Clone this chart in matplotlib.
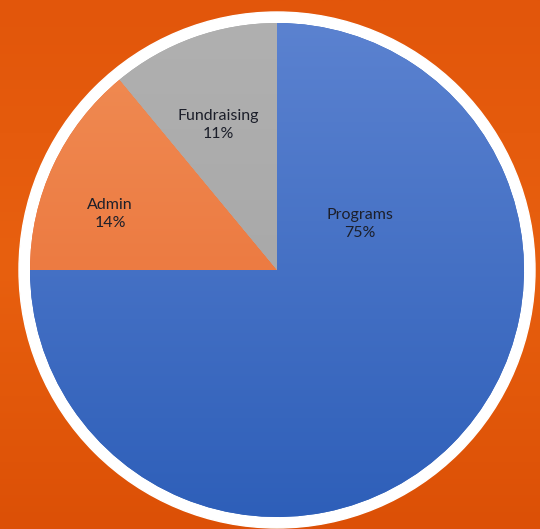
import numpy as np
from matplotlib import pyplot as plt
from matplotlib.colors import LinearSegmentedColormap

# chart data
categories = ['Programs', 'Admin', 'Fundraising']
shares = [75, 14, 11]

# top / bottom shades of each slice (slices look lit from the top)
tops = ['#5b82d0', '#f08d55', '#b0b0b0']
bottoms = ['#2e5fb9', '#e9692f', '#a2a2a2']

W, H = 540, 529
cx, cy, r = 277, H - 270, 247

fig = plt.figure(figsize=(W / 100, H / 100), dpi=100)
ax = fig.add_axes([0, 0, 1, 1])
ax.set_xlim(0, W)
ax.set_ylim(0, H)
ax.set_aspect('equal')
ax.axis('off')

# orange backdrop, a bit darker at the bottom
bg = LinearSegmentedColormap.from_list('bg', ['#e2560b', '#e8600f', '#dc5006'])
ax.imshow(np.linspace(0, 1, 256).reshape(-1, 1), cmap=bg, aspect='auto',
          extent=(0, W, 0, H), origin='upper', zorder=0)

# white ring behind the pie
ax.add_patch(plt.Circle((cx, cy), r + 11, color='white', zorder=1))

wedges, _ = ax.pie(shares, startangle=90, counterclock=False, center=(cx, cy),
                   radius=r, colors=bottoms, frame=True,
                   wedgeprops=dict(linewidth=0, zorder=2))
ax.set_xlim(0, W)
ax.set_ylim(0, H)
ax.axis('off')

for w, top, bot in zip(wedges, tops, bottoms):
    cm = LinearSegmentedColormap.from_list('g', [top, bot])
    im = ax.imshow(np.linspace(0, 1, 256).reshape(-1, 1), cmap=cm, aspect='auto',
                   extent=(cx - r, cx + r, cy - r, cy + r), origin='upper', zorder=3)
    im.set_clip_path(w)

# data labels, placed where the original chart puts them
label_pos = [(360, 224), (110, 214), (218, 125)]
for name, val, (x, y) in zip(categories, shares, label_pos):
    ax.text(x, H - y, f'{name}\n{val}%', ha='center', va='center', fontsize=11.5,
            family=['Lato', 'DejaVu Sans'], color='#1c1f2a', linespacing=1.3, zorder=4)

plt.savefig('out.png', dpi=100)
